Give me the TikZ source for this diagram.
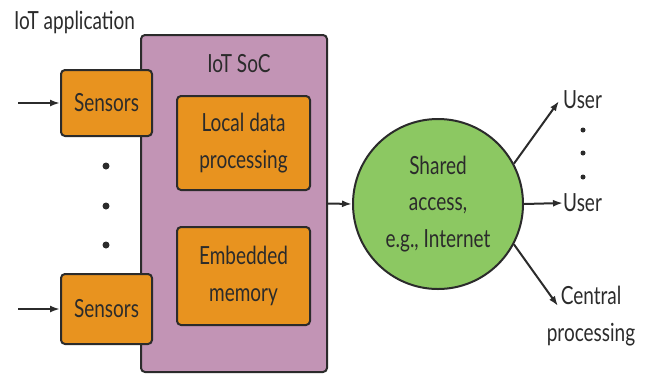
\documentclass[tikz,border=0pt]{standalone}
\usepackage{fontspec}
\setmainfont{Lato}[FakeStretch=0.76]
\usetikzlibrary{arrows.meta}
\definecolor{socpurple}{HTML}{C294B5}
\definecolor{boxorange}{HTML}{E8931F}
\definecolor{netgreen}{HTML}{8CC862}
\definecolor{edge}{HTML}{2B2B2B}
\tikzset{
  txt/.style={font=\fontsize{25}{36.5}\selectfont, text=edge},
  obox/.style={draw=edge, line width=2pt, fill=boxorange, rounded corners=4pt, txt, align=center, inner sep=0pt},
  conn/.style={draw=edge, line width=2pt, -{Latex[length=10pt,width=7pt]}},
  dotmark/.style={circle, fill=edge, inner sep=0pt, minimum size=#1},
}
\begin{document}
\begin{tikzpicture}[x=1pt,y=-1pt]
\useasboundingbox (0,0) rectangle (647,376);
% SoC
\node[draw=edge, line width=2pt, fill=socpurple, rounded corners=4pt, minimum width=186pt, minimum height=337pt, inner sep=0pt] (soc) at (234,203.5) {};
\node[txt] (soclbl) at (239,64) {IoT SoC};
\node[txt, anchor=west, inner sep=0pt] (app) at (14,22) {IoT application};
% inner boxes
\node[obox, minimum width=133pt, minimum height=94pt] (local) at (243.5,143) {Local data\\processing};
\node[obox, minimum width=133pt, minimum height=98pt] (mem) at (243.5,276) {Embedded\\memory};
% sensors
\node[obox, minimum width=91pt, minimum height=66pt] (s1) at (106.5,103) {Sensors};
\node[obox, minimum width=91pt, minimum height=70pt] (s2) at (106.5,309) {Sensors};
\coordinate (in1) at (18,103);
\coordinate (in2) at (18,309);
\draw[conn] (in1) -- (s1.west);
\draw[conn] (in2) -- (s2.west);
% left dots
\node[dotmark=7pt] (ld1) at (106,166) {};
\node[dotmark=7pt] (ld2) at (106,206) {};
\node[dotmark=7pt] (ld3) at (106,245) {};
% network circle
\node[circle, draw=edge, line width=2pt, fill=netgreen, minimum size=170pt, inner sep=0pt, txt, align=center] (net) at (438,204) {Shared\\access,\\e.g., Internet};
\draw[conn] (soc.east) -- (net.west);
% outputs
\node[txt, anchor=west, inner sep=0pt] (u1) at (563,100) {User};
\node[txt, anchor=west, inner sep=0pt] (u2) at (563,203) {User};
\node[txt, align=center, inner sep=0pt] (cp) at (591,316) {Central\\processing};
\coordinate (cpt) at (558,306);
\coordinate (u1t) at (559,101);
\draw[conn] (net.28) -- (u1t);
\draw[conn] (net.east) -- (u2.west);
\draw[conn] (net.-28) -- (cpt);
% right dots
\node[dotmark=5pt] (rd1) at (583,130) {};
\node[dotmark=5pt] (rd2) at (583,153) {};
\node[dotmark=5pt] (rd3) at (583,177) {};
\end{tikzpicture}
\end{document}
